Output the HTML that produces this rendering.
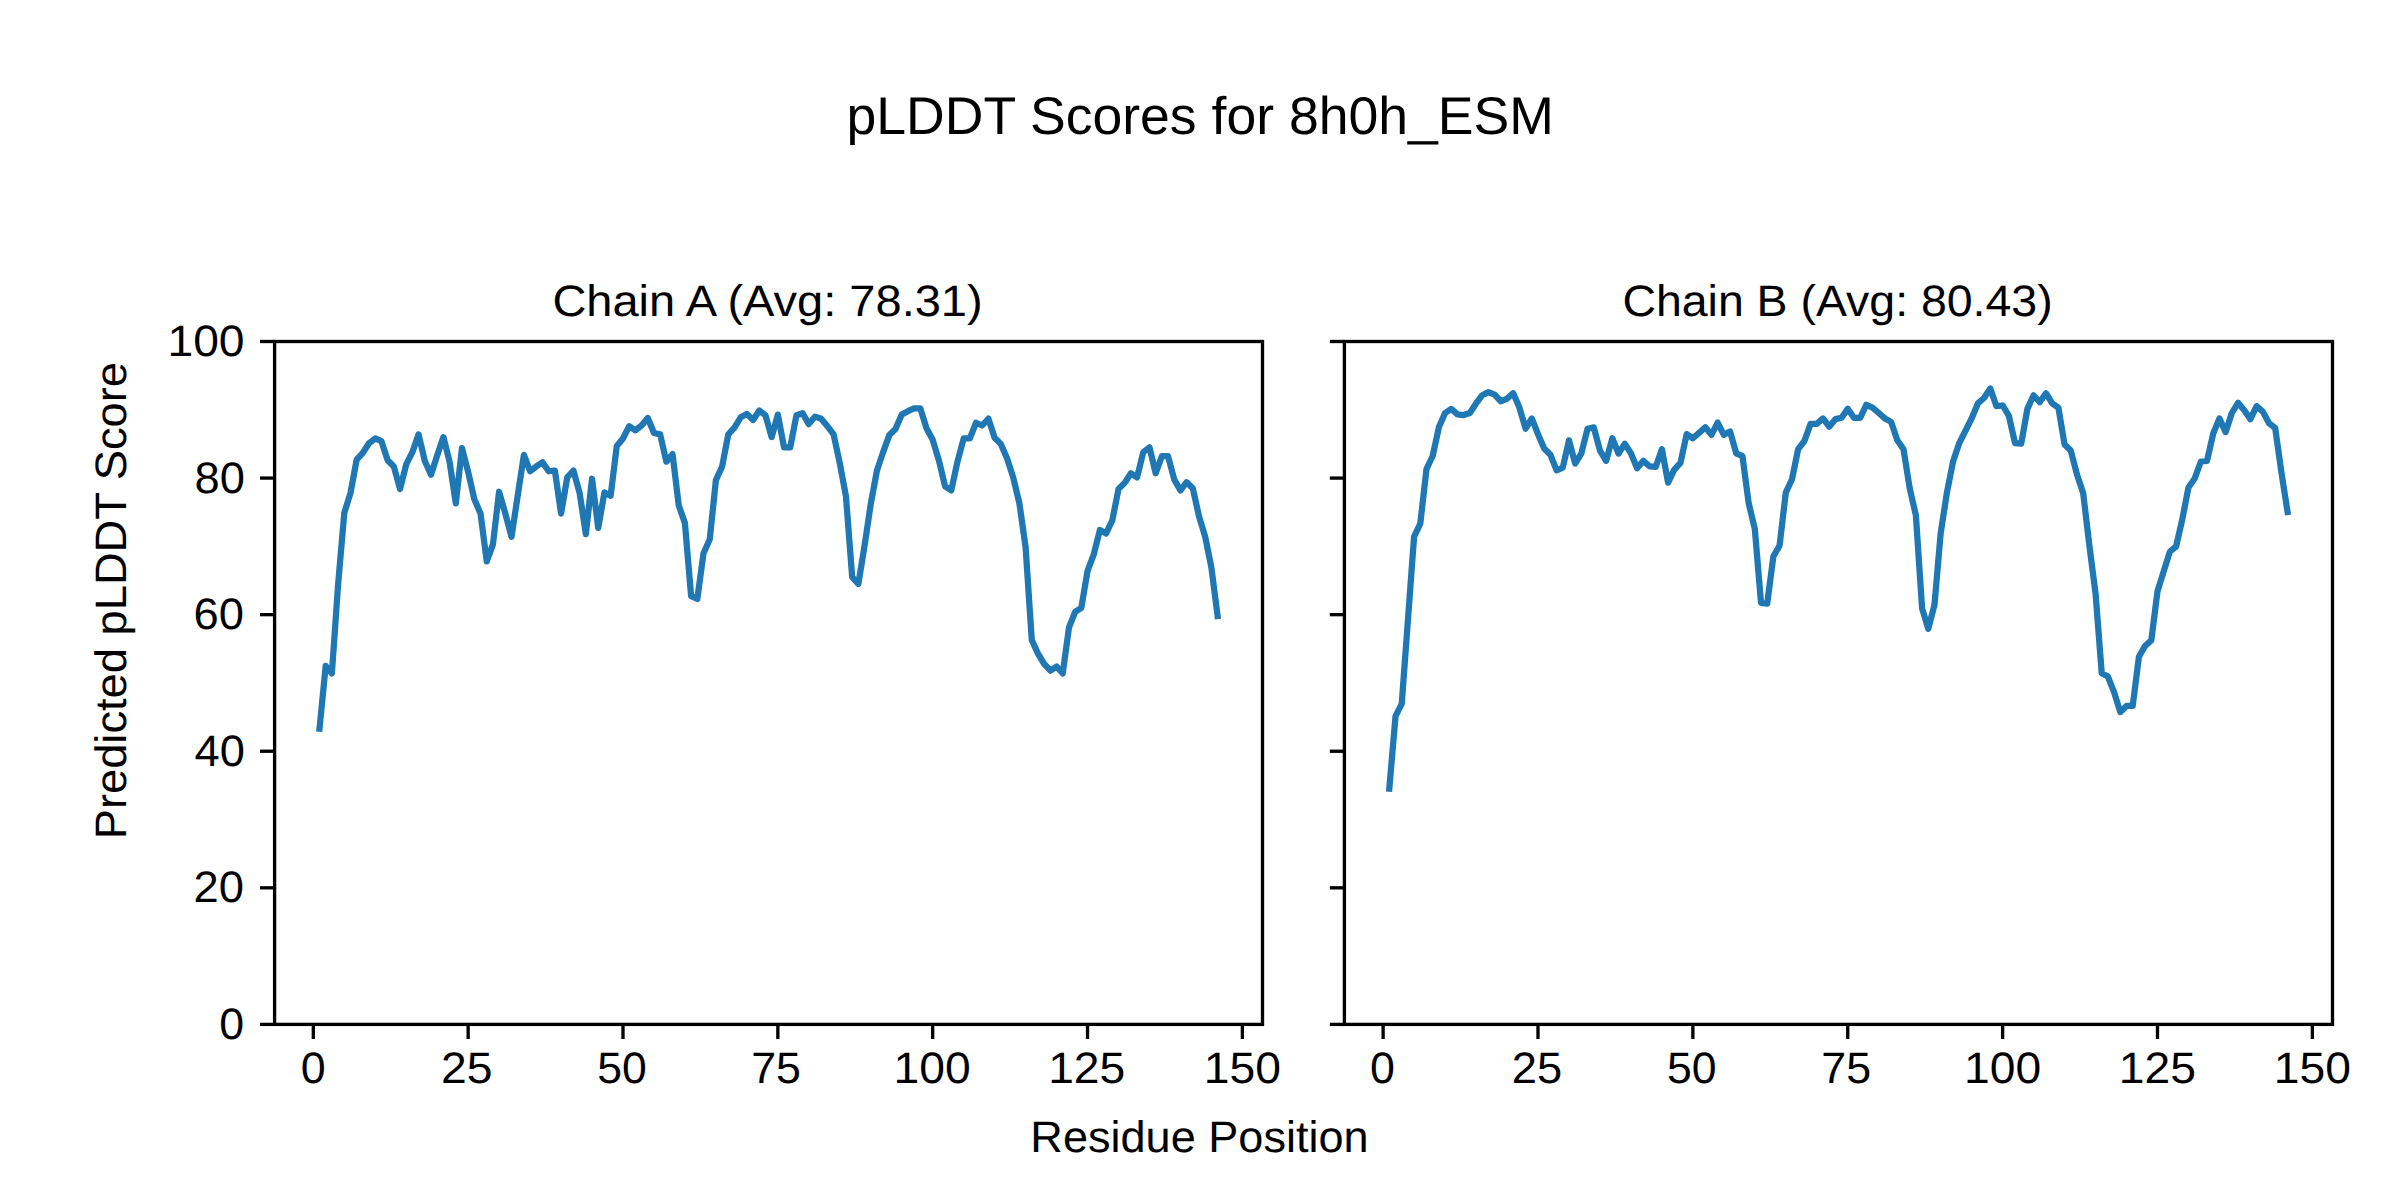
<!DOCTYPE html><html><head><meta charset="utf-8"><style>html,body{margin:0;padding:0;background:#fff;overflow:hidden;}svg{display:block;}text{font-family:"Liberation Sans",sans-serif;fill:#000;}</style></head><body>
<svg width="2400" height="1200" viewBox="0 0 2400 1200" style="text-rendering:geometricPrecision">
<rect x="0" y="0" width="2400" height="1200" fill="#fff"/>
<polyline points="319.50,728.70 325.70,665.88 331.89,673.39 338.09,584.61 344.28,512.91 350.47,493.10 356.67,459.64 362.86,452.81 369.05,443.25 375.25,438.47 381.44,441.20 387.64,460.32 393.83,466.47 400.02,489.01 406.22,464.42 412.41,452.13 418.60,434.37 424.80,461.01 430.99,474.67 437.19,455.54 443.38,437.11 449.57,461.69 455.77,503.35 461.96,448.03 468.15,471.93 474.35,499.25 480.54,513.59 486.74,561.39 492.93,544.32 499.12,491.74 505.32,513.59 511.51,536.81 517.70,495.84 523.90,454.86 530.09,471.25 536.29,466.47 542.48,462.37 548.67,471.25 554.87,470.57 561.06,513.59 567.25,477.40 573.45,470.57 579.64,493.10 585.83,534.08 592.03,478.76 598.22,527.93 604.42,492.42 610.61,495.84 616.80,445.98 623.00,438.47 629.19,426.18 635.38,430.28 641.58,425.50 647.77,417.98 653.97,433.01 660.16,434.37 666.35,461.69 672.55,454.18 678.74,505.40 684.93,523.15 691.13,596.22 697.32,598.95 703.52,553.20 709.71,539.54 715.90,480.13 722.10,466.47 728.29,434.37 734.48,427.55 740.68,417.30 746.87,413.89 753.07,420.03 759.26,410.47 765.45,415.25 771.65,437.11 777.84,414.57 784.03,447.35 790.23,447.35 796.42,415.25 802.62,413.20 808.81,424.13 815.00,416.62 821.20,418.67 827.39,426.18 833.58,434.37 839.78,463.06 845.97,496.52 852.17,577.10 858.36,583.93 864.55,545.69 870.75,504.03 876.94,470.57 883.13,452.13 889.33,435.06 895.52,428.91 901.72,414.57 907.91,411.16 914.10,408.42 920.30,408.42 926.49,428.23 932.68,439.84 938.88,460.32 945.07,486.27 951.27,490.37 957.46,461.69 963.65,438.47 969.85,438.47 976.04,422.77 982.23,425.50 988.43,418.67 994.62,437.79 1000.81,443.94 1007.01,458.28 1013.20,477.40 1019.40,503.35 1025.59,547.05 1031.78,639.93 1037.98,653.59 1044.17,663.83 1050.36,670.66 1056.56,666.56 1062.75,673.39 1068.95,627.64 1075.14,611.93 1081.33,607.83 1087.53,570.95 1093.72,554.56 1099.91,529.98 1106.11,533.39 1112.30,520.42 1118.50,489.01 1124.69,482.86 1130.88,473.30 1137.08,477.40 1143.27,452.13 1149.46,447.35 1155.66,473.30 1161.85,456.23 1168.05,456.23 1174.24,479.45 1180.43,490.37 1186.63,482.18 1192.82,488.32 1199.01,516.32 1205.21,536.81 1211.40,567.54 1217.60,616.03" fill="none" stroke="#1f77b4" stroke-width="6.25" stroke-linejoin="round" stroke-linecap="square"/>
<polyline points="1389.31,788.59 1395.51,716.21 1401.70,703.92 1407.90,620.60 1414.09,536.60 1420.29,523.63 1426.48,469.00 1432.68,456.02 1438.87,427.34 1445.07,413.00 1451.26,408.90 1457.46,414.37 1463.65,415.05 1469.85,413.00 1476.04,403.44 1482.24,395.24 1488.43,392.17 1494.63,394.56 1500.82,401.39 1507.02,398.66 1513.21,393.20 1519.41,407.54 1525.60,428.71 1531.80,418.46 1537.99,434.17 1544.19,448.51 1550.38,454.66 1556.58,470.36 1562.77,467.63 1568.97,440.32 1575.16,463.53 1581.36,453.29 1587.55,428.71 1593.75,427.34 1599.94,450.56 1606.14,460.80 1612.33,438.27 1618.53,453.63 1624.72,443.73 1630.92,453.29 1637.11,468.31 1643.31,460.80 1649.50,466.27 1655.70,466.95 1661.89,449.19 1668.09,482.66 1674.28,469.68 1680.48,462.85 1686.67,434.17 1692.87,438.27 1699.06,432.80 1705.26,427.34 1711.45,434.85 1717.65,422.56 1723.84,434.85 1730.04,431.44 1736.23,453.29 1742.43,456.02 1748.62,502.80 1754.82,529.09 1761.01,602.85 1767.21,603.53 1773.40,556.41 1779.60,545.48 1785.79,492.56 1791.99,479.24 1798.18,449.19 1804.38,441.00 1810.57,423.93 1816.77,423.93 1822.96,418.46 1829.16,426.66 1835.35,419.15 1841.55,417.78 1847.74,408.90 1853.94,417.78 1860.13,417.78 1866.33,404.80 1872.52,407.54 1878.72,413.00 1884.91,418.46 1891.11,421.88 1897.30,440.32 1903.50,449.19 1909.69,488.12 1915.89,515.43 1922.08,608.31 1928.28,628.80 1934.47,604.89 1940.67,533.19 1946.86,492.90 1953.06,461.49 1959.25,443.05 1965.45,430.76 1971.64,418.46 1977.84,403.44 1984.03,397.98 1990.23,388.42 1996.42,406.17 2002.62,405.49 2008.81,415.73 2015.01,443.05 2021.20,443.73 2027.40,408.90 2033.59,395.24 2039.79,402.07 2045.98,393.20 2052.18,403.44 2058.37,407.54 2064.57,444.41 2070.76,450.56 2076.96,474.46 2083.15,492.90 2089.35,545.48 2095.54,593.29 2101.74,673.18 2107.93,676.60 2114.13,692.31 2120.32,712.11 2126.52,705.96 2132.71,705.96 2138.91,656.79 2145.10,645.87 2151.30,640.41 2157.49,591.24 2163.69,571.43 2169.88,551.63 2176.08,546.51 2182.27,519.53 2188.47,487.44 2194.66,478.56 2200.86,461.49 2207.05,460.80 2213.25,433.49 2219.44,418.46 2225.64,432.12 2231.83,413.00 2238.03,402.76 2244.22,410.27 2250.42,419.15 2256.61,406.17 2262.81,411.63 2269.00,423.24 2275.20,428.02 2281.39,472.41 2287.59,512.02" fill="none" stroke="#1f77b4" stroke-width="6.25" stroke-linejoin="round" stroke-linecap="square"/>
<rect x="274.60" y="341.50" width="987.90" height="682.90" fill="none" stroke="#000" stroke-width="3.333" stroke-linejoin="miter"/>
<line x1="313.31" y1="1024.40" x2="313.31" y2="1038.98" stroke="#000" stroke-width="3.333"/>
<line x1="468.15" y1="1024.40" x2="468.15" y2="1038.98" stroke="#000" stroke-width="3.333"/>
<line x1="623.00" y1="1024.40" x2="623.00" y2="1038.98" stroke="#000" stroke-width="3.333"/>
<line x1="777.84" y1="1024.40" x2="777.84" y2="1038.98" stroke="#000" stroke-width="3.333"/>
<line x1="932.68" y1="1024.40" x2="932.68" y2="1038.98" stroke="#000" stroke-width="3.333"/>
<line x1="1087.53" y1="1024.40" x2="1087.53" y2="1038.98" stroke="#000" stroke-width="3.333"/>
<line x1="1242.37" y1="1024.40" x2="1242.37" y2="1038.98" stroke="#000" stroke-width="3.333"/>
<line x1="260.02" y1="1024.40" x2="274.60" y2="1024.40" stroke="#000" stroke-width="3.333"/>
<line x1="260.02" y1="887.82" x2="274.60" y2="887.82" stroke="#000" stroke-width="3.333"/>
<line x1="260.02" y1="751.24" x2="274.60" y2="751.24" stroke="#000" stroke-width="3.333"/>
<line x1="260.02" y1="614.66" x2="274.60" y2="614.66" stroke="#000" stroke-width="3.333"/>
<line x1="260.02" y1="478.08" x2="274.60" y2="478.08" stroke="#000" stroke-width="3.333"/>
<line x1="260.02" y1="341.50" x2="274.60" y2="341.50" stroke="#000" stroke-width="3.333"/>
<rect x="1344.40" y="341.50" width="988.10" height="682.90" fill="none" stroke="#000" stroke-width="3.333" stroke-linejoin="miter"/>
<line x1="1383.12" y1="1024.40" x2="1383.12" y2="1038.98" stroke="#000" stroke-width="3.333"/>
<line x1="1537.99" y1="1024.40" x2="1537.99" y2="1038.98" stroke="#000" stroke-width="3.333"/>
<line x1="1692.87" y1="1024.40" x2="1692.87" y2="1038.98" stroke="#000" stroke-width="3.333"/>
<line x1="1847.74" y1="1024.40" x2="1847.74" y2="1038.98" stroke="#000" stroke-width="3.333"/>
<line x1="2002.62" y1="1024.40" x2="2002.62" y2="1038.98" stroke="#000" stroke-width="3.333"/>
<line x1="2157.49" y1="1024.40" x2="2157.49" y2="1038.98" stroke="#000" stroke-width="3.333"/>
<line x1="2312.37" y1="1024.40" x2="2312.37" y2="1038.98" stroke="#000" stroke-width="3.333"/>
<line x1="1329.82" y1="1024.40" x2="1344.40" y2="1024.40" stroke="#000" stroke-width="3.333"/>
<line x1="1329.82" y1="887.82" x2="1344.40" y2="887.82" stroke="#000" stroke-width="3.333"/>
<line x1="1329.82" y1="751.24" x2="1344.40" y2="751.24" stroke="#000" stroke-width="3.333"/>
<line x1="1329.82" y1="614.66" x2="1344.40" y2="614.66" stroke="#000" stroke-width="3.333"/>
<line x1="1329.82" y1="478.08" x2="1344.40" y2="478.08" stroke="#000" stroke-width="3.333"/>
<line x1="1329.82" y1="341.50" x2="1344.40" y2="341.50" stroke="#000" stroke-width="3.333"/>
<text x="1200.15" y="134.20" font-size="53.00" text-anchor="middle" textLength="707.33" lengthAdjust="spacingAndGlyphs">pLDDT Scores for 8h0h_ESM</text>
<text x="767.50" y="316.40" font-size="44.00" text-anchor="middle" textLength="430.25" lengthAdjust="spacingAndGlyphs">Chain A (Avg: 78.31)</text>
<text x="1837.50" y="316.40" font-size="44.00" text-anchor="middle" textLength="430.25" lengthAdjust="spacingAndGlyphs">Chain B (Avg: 80.43)</text>
<text x="1199.50" y="1152.00" font-size="44.00" text-anchor="middle" textLength="338.26" lengthAdjust="spacingAndGlyphs">Residue Position</text>
<text transform="translate(126.00,600.65) rotate(-90)" x="0" y="0" font-size="44.00" text-anchor="middle" textLength="477.33" lengthAdjust="spacingAndGlyphs">Predicted pLDDT Score</text>
<text x="231.77" y="1038.90" font-size="44.00" text-anchor="middle" textLength="24.87" lengthAdjust="spacingAndGlyphs">0</text>
<text x="218.65" y="902.32" font-size="44.00" text-anchor="middle" textLength="50.43" lengthAdjust="spacingAndGlyphs">20</text>
<text x="219.65" y="765.74" font-size="44.00" text-anchor="middle" textLength="50.41" lengthAdjust="spacingAndGlyphs">40</text>
<text x="218.65" y="629.16" font-size="44.00" text-anchor="middle" textLength="50.43" lengthAdjust="spacingAndGlyphs">60</text>
<text x="219.65" y="492.58" font-size="44.00" text-anchor="middle" textLength="50.41" lengthAdjust="spacingAndGlyphs">80</text>
<text x="206.02" y="356.00" font-size="44.00" text-anchor="middle" textLength="77.15" lengthAdjust="spacingAndGlyphs">100</text>
<text x="313.30" y="1082.75" font-size="44.00" text-anchor="middle" textLength="24.94" lengthAdjust="spacingAndGlyphs">0</text>
<text x="466.89" y="1082.75" font-size="44.00" text-anchor="middle" textLength="51.50" lengthAdjust="spacingAndGlyphs">25</text>
<text x="621.98" y="1082.75" font-size="44.00" text-anchor="middle" textLength="49.55" lengthAdjust="spacingAndGlyphs">50</text>
<text x="776.07" y="1082.75" font-size="44.00" text-anchor="middle" textLength="49.77" lengthAdjust="spacingAndGlyphs">75</text>
<text x="932.15" y="1082.75" font-size="44.00" text-anchor="middle" textLength="77.15" lengthAdjust="spacingAndGlyphs">100</text>
<text x="1086.74" y="1082.75" font-size="44.00" text-anchor="middle" textLength="77.14" lengthAdjust="spacingAndGlyphs">125</text>
<text x="1242.33" y="1082.75" font-size="44.00" text-anchor="middle" textLength="77.14" lengthAdjust="spacingAndGlyphs">150</text>
<text x="1382.57" y="1082.75" font-size="44.00" text-anchor="middle" textLength="24.94" lengthAdjust="spacingAndGlyphs">0</text>
<text x="1536.94" y="1082.75" font-size="44.00" text-anchor="middle" textLength="50.41" lengthAdjust="spacingAndGlyphs">25</text>
<text x="1691.81" y="1082.75" font-size="44.00" text-anchor="middle" textLength="49.57" lengthAdjust="spacingAndGlyphs">50</text>
<text x="1846.18" y="1082.75" font-size="44.00" text-anchor="middle" textLength="49.75" lengthAdjust="spacingAndGlyphs">75</text>
<text x="2002.55" y="1082.75" font-size="44.00" text-anchor="middle" textLength="77.14" lengthAdjust="spacingAndGlyphs">100</text>
<text x="2157.43" y="1082.75" font-size="44.00" text-anchor="middle" textLength="77.14" lengthAdjust="spacingAndGlyphs">125</text>
<text x="2312.30" y="1082.75" font-size="44.00" text-anchor="middle" textLength="77.14" lengthAdjust="spacingAndGlyphs">150</text>
</svg></body></html>
